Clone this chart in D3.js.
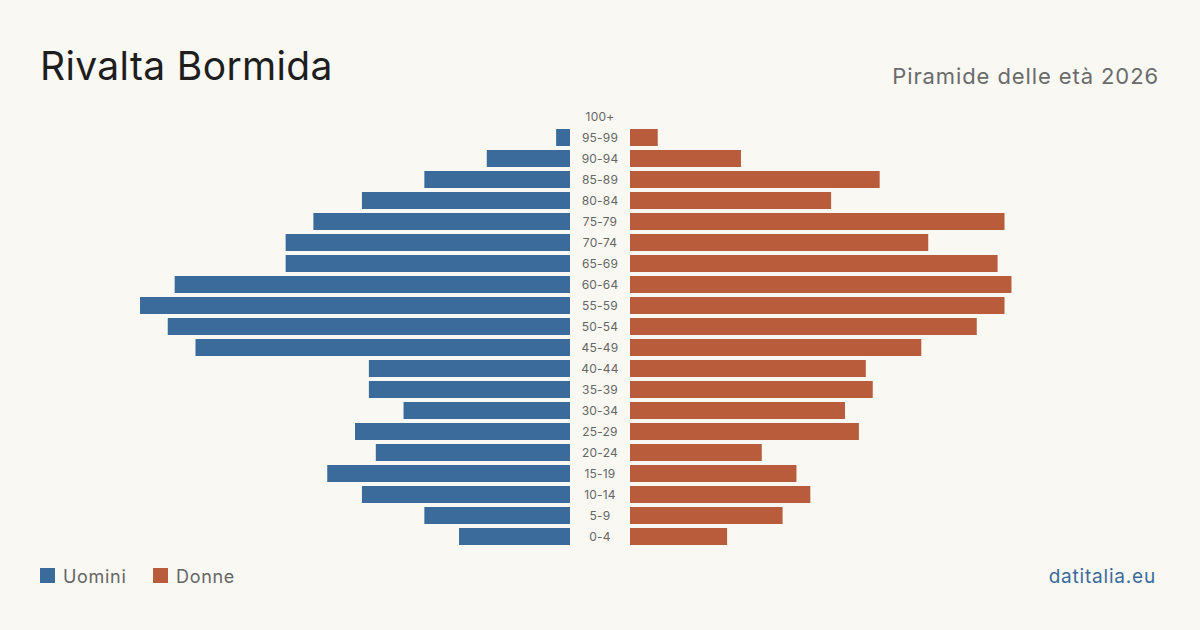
<!DOCTYPE html>
<html>
<head>
<meta charset="utf-8">
<script src="https://cdn.jsdelivr.net/npm/d3@7"></script>
<style>
  body { margin: 0; background: #f9f8f3; }
  svg { display: block; font-family: Inter, "Liberation Sans", sans-serif; }
</style>
</head>
<body>
<script>
// Age classes, top to bottom
let ages = ["100+", "95-99", "90-94", "85-89", "80-84", "75-79", "70-74", "65-69", "60-64",
  "55-59", "50-54", "45-49", "40-44", "35-39", "30-34", "25-29", "20-24", "15-19",
  "10-14", "5-9", "0-4"];
let men = [0, 2, 12, 21, 30, 37, 41, 41, 57, 62, 58, 54, 29, 29, 24, 31, 28, 35, 30, 21, 16];
let women = [0, 4, 16, 36, 29, 54, 43, 53, 55, 54, 50, 42, 34, 35, 31, 33, 19, 24, 26, 22, 14];

let W = 1200, H = 630;
let blue = "#3b6b9b", red = "#b95c3c";

let svg = d3.select("body").append("svg")
  .attr("width", W).attr("height", H);

svg.append("rect").attr("width", W).attr("height", H).attr("fill", "#f9f8f3");

// Title and subtitle
svg.append("text").attr("x", 40).attr("y", 80)
  .attr("font-size", 39).attr("letter-spacing", 0.35).attr("fill", "#1e1e1e").text("Rivalta Bormida");
svg.append("text").attr("x", 1159).attr("y", 84).attr("text-anchor", "end")
  .attr("font-size", 22).attr("letter-spacing", 0.9).attr("fill", "#6b6b6b").text("Piramide delle età 2026");

// Scales
let y = d3.scaleBand().domain(ages).range([106, 547]).paddingInner(0.19).paddingOuter(0.095);
let maxV = 62;
let xL = d3.scaleLinear().domain([0, maxV]).range([570, 140]);
let xR = d3.scaleLinear().domain([0, maxV]).range([630, 1060]);

svg.selectAll(".m").data(ages).enter().append("rect")
  .attr("class", "m")
  .attr("x", (d, i) => xL(men[i]))
  .attr("y", d => y(d))
  .attr("width", (d, i) => xL(0) - xL(men[i]))
  .attr("height", y.bandwidth())
  .attr("fill", blue);

svg.selectAll(".f").data(ages).enter().append("rect")
  .attr("class", "f")
  .attr("x", xR(0))
  .attr("y", d => y(d))
  .attr("width", (d, i) => xR(women[i]) - xR(0))
  .attr("height", y.bandwidth())
  .attr("fill", red);

svg.selectAll(".lab").data(ages).enter().append("text")
  .attr("class", "lab")
  .attr("x", 600)
  .attr("y", d => y(d) + y.bandwidth() / 2)
  .attr("dy", "0.35em")
  .attr("text-anchor", "middle")
  .attr("font-size", 12).attr("letter-spacing", 0.2).attr("fill", "#666")
  .text(d => d);

// Legend
let legend = [["Uomini", blue, 40], ["Donne", red, 153]];
legend.forEach(l => {
  svg.append("rect").attr("x", l[2]).attr("y", 568).attr("width", 15).attr("height", 15).attr("fill", l[1]);
  svg.append("text").attr("x", l[2] + 23).attr("y", 583)
    .attr("font-size", 18).attr("letter-spacing", 0.7).attr("fill", "#666").text(l[0]);
});

svg.append("text").attr("x", 1156).attr("y", 583).attr("text-anchor", "end")
  .attr("font-size", 19).attr("letter-spacing", 0.8).attr("fill", blue).text("datitalia.eu");
</script>
</body>
</html>
